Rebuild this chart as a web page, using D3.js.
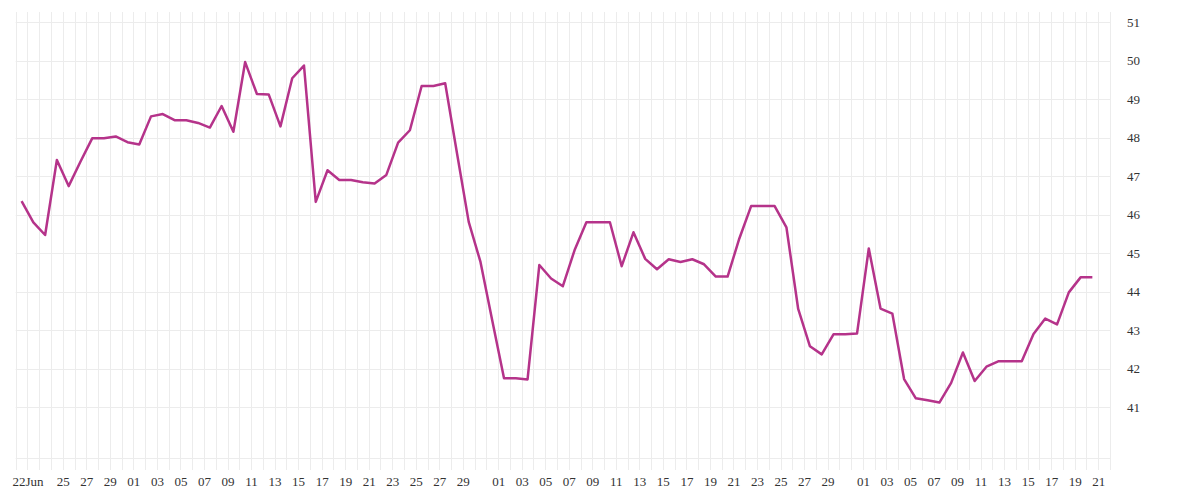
<!DOCTYPE html>
<html>
<head>
<meta charset="utf-8">
<script src="https://cdn.jsdelivr.net/npm/d3@7"></script>
<style>
  html, body { margin: 0; padding: 0; background: #fff; }
  svg { display: block; }
  .lbl text { font-family: "Liberation Serif", "DejaVu Serif", serif; font-size: 13px; fill: #333; }
</style>
</head>
<body>
<svg id="chart" width="1200" height="500"></svg>
<script>
// ---- data ----
// one value per day, first point 21 Jun (midday), last 20 Sep (midday)
const firstDay = "2020-06-21";
const values = [
  46.35, 45.80, 45.47, 47.42, 46.74, 47.37, 47.98, 47.98, 48.03, 47.88,
  47.82, 48.55, 48.61, 48.45, 48.45, 48.38, 48.26, 48.82, 48.15, 49.96,
  49.13, 49.12, 48.29, 49.54, 49.87, 46.33, 47.15, 46.90, 46.90, 46.84,
  46.81, 47.03, 47.87, 48.19, 49.34, 49.34, 49.41, 47.60, 45.81, 44.77,
  43.25, 41.75, 41.75, 41.72, 44.69, 44.34, 44.14, 45.08, 45.80, 45.80,
  45.80, 44.66, 45.54, 44.85, 44.58, 44.84, 44.77, 44.84, 44.71, 44.39,
  44.39, 45.38, 46.22, 46.22, 46.22, 45.67, 43.55, 42.58, 42.37, 42.89,
  42.89, 42.91, 45.12, 43.56, 43.43, 41.73, 41.23, 41.18, 41.12, 41.63,
  42.42, 41.68, 42.05, 42.19, 42.19, 42.19, 42.90, 43.30, 43.15, 43.98,
  44.37, 44.37
];
const yTicks = [41, 42, 43, 44, 45, 46, 47, 48, 49, 50, 51];
const junTicks = [22, 25, 27, 29];
const julTicks = [1, 3, 5, 7, 9, 11, 13, 15, 17, 19, 21, 23, 25, 27, 29];
const augTicks = [1, 3, 5, 7, 9, 11, 13, 15, 17, 19, 21, 23, 25, 27, 29];
const sepTicks = [1, 3, 5, 7, 9, 11, 13, 15, 17, 19, 21];
const monthTicks = [[5, junTicks], [6, julTicks], [7, augTicks], [8, sepTicks]];

// ---- layout ----
const plotLeft = 15.7, plotRight = 1110, plotTop = 12, plotBottom = 458;
const svg = d3.select("#chart");

const parse = d3.timeParse("%Y-%m-%d");
const start = parse(firstDay);
const data = values.map((v, i) => ({ date: d3.timeHour.offset(d3.timeDay.offset(start, i), 12), v }));

const x = d3.scaleTime()
  .domain([new Date(2020, 5, 21), new Date(2020, 8, 22)])
  .range([plotLeft, plotRight]);
const y = d3.scaleLinear()
  .domain([39.68, 51.26])
  .range([plotBottom, plotTop]);

// grid
const grid = svg.append("g").attr("stroke", "#ececec").attr("stroke-width", 1);
const allDays = d3.timeDay.range(new Date(2020, 5, 21), new Date(2020, 8, 23));
grid.selectAll("line.v").data(allDays).join("line")
  .attr("class", "v")
  .attr("x1", d => Math.round(x(d)) + 0.5).attr("x2", d => Math.round(x(d)) + 0.5)
  .attr("y1", plotTop).attr("y2", plotBottom + 12);
grid.selectAll("line.h").data(yTicks).join("line")
  .attr("class", "h")
  .attr("x1", plotLeft).attr("x2", plotRight)
  .attr("y1", d => Math.round(y(d)) + 0.5).attr("y2", d => Math.round(y(d)) + 0.5);
grid.append("line")
  .attr("x1", plotLeft).attr("x2", plotRight)
  .attr("y1", plotBottom + 0.5).attr("y2", plotBottom + 0.5);

// x labels
const tickDates = [];
monthTicks.forEach(([m, days]) => days.forEach(d => tickDates.push(new Date(2020, m, d))));
const xAxis = d3.axisBottom(x)
  .tickValues(tickDates)
  .tickSize(0)
  .tickPadding(19)
  .tickFormat(d => (d.getMonth() === 5 && d.getDate() === 22) ? "22Jun" : d3.timeFormat("%d")(d));
svg.append("g").attr("class", "lbl")
  .attr("transform", `translate(0,${plotBottom})`)
  .call(xAxis)
  .call(g => g.select(".domain").remove())
  .call(g => g.selectAll("text").attr("font-family", null).attr("font-size", null));

// y labels
const yAxis = d3.axisRight(y).tickValues(yTicks).tickSize(0).tickPadding(17);
svg.append("g").attr("class", "lbl")
  .attr("transform", `translate(${plotRight},0)`)
  .call(yAxis)
  .call(g => g.select(".domain").remove())
  .call(g => g.selectAll("text").attr("font-family", null).attr("font-size", null));

// line
const line = d3.line().x(d => x(d.date)).y(d => y(d.v));
svg.append("path")
  .datum(data)
  .attr("d", line)
  .attr("fill", "none")
  .attr("stroke", "#b5338a")
  .attr("stroke-width", 2.5)
  .attr("stroke-linejoin", "round");
</script>
</body>
</html>
